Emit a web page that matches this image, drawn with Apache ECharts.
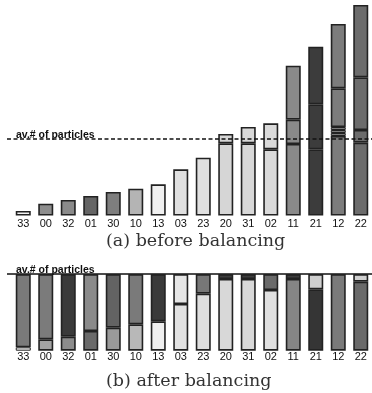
<!DOCTYPE html>
<html><head><meta charset="utf-8">
<script src="https://cdn.jsdelivr.net/npm/echarts@6/dist/echarts.min.js"></script>
<style>html,body{margin:0;padding:0;background:#fff}#c{width:372px;height:393px}</style>
</head><body><div id="c"></div>
<script>
// ---- data ----
const categories = ['33','00','32','01','30','10','13','03','23','20','31','02','11','21','12','22'];
// (a) before balancing: stacked segments, bottom to top (particle counts, chart units)
const beforeSeg1 = [4.5, 11.8, 15.5, 19.5, 23.5, 26.8, 31.2, 46.2, 57.8, 72.2, 72.2, 66.2, 71.5, 66.2, 79.5, 72.8];
const beforeSeg2 = [null, null, null, null, null, null, null, null, null, 9.3, 16.3, 26.0, 24.3, 45.0, 3.0, 12.7];
const beforeSeg3 = [null, null, null, null, null, null, null, null, null, null, null, null, 54.0, 57.6, 3.0, 52.7];
const beforeSeg4 = [null, null, null, null, null, null, null, null, null, null, null, null, null, null, 3.0, 72.3];
const beforeSeg5 = [null, null, null, null, null, null, null, null, null, null, null, null, null, null, 38.7, null];
const beforeSeg6 = [null, null, null, null, null, null, null, null, null, null, null, null, null, null, 64.3, null];
// (b) after balancing: own particles (bottom) and received particles (top)
const afterOwn = [3.4, 11.4, 14.0, 19.7, 23.0, 26.4, 29.4, 46.7, 57.0, 71.7, 71.7, 60.7, 71.7, 61.4, 76.5, 69.0];
const afterRecv = [73.1, 65.1, 62.5, 56.8, 53.5, 50.1, 47.1, 29.8, 19.5, 4.8, 4.8, 15.8, 4.8, 15.1, null, 7.5];
const avgParticles = 76.5;
const avgLabel = 'av.# of particles';

// ---- styles ----
const colorsBefore = ['#f2f2f2','#8e8e8e','#8a8a8a','#656565','#7e7e7e','#b4b4b4','#f0f0f0','#e0e0e0','#e0e0e0','#d6d6d6','#d8d8d8','#dadada','#8a8a8a','#3c3c3c','#7c7c7c','#6c6c6c'];
const colorsOwn = ['#f2f2f2','#a3a3a3','#8c8c8c','#6a6a6a','#9a9a9a','#b8b8b8','#efefef','#e2e2e2','#dedede','#d8d8d8','#d8d8d8','#e0e0e0','#858585','#353535','#7a7a7a','#6a6a6a'];
const colorsRecv = ['#7a7a7a','#7b7b7b','#3a3a3a','#8a8a8a','#636363','#7a7a7a','#3a3a3a','#e6e6e6','#777777','#3e3e3e','#3e3e3e','#6a6a6a','#3e3e3e','#cfcfcf','#7a7a7a','#d0d0d0'];

function items(vals, colors){
  return vals.map((v,i)=> v==null ? '-' : {value:v, itemStyle:{color:colors[i], borderColor:'#222', borderWidth: v < 4 ? 1 : 1.6}});
}
const sansLbl = {fontFamily:'Liberation Sans', fontSize:11, color:'#111'};

const chart = echarts.init(document.getElementById('c'), null, {renderer:'canvas'});
const segsA = [beforeSeg1,beforeSeg2,beforeSeg3,beforeSeg4,beforeSeg5,beforeSeg6];
const series = segsA.map((s,k)=>({
  type:'bar', stack:'a', xAxisIndex:0, yAxisIndex:0, barWidth:15,
  data: items(s, colorsBefore), silent:true
}));
series[series.length-1].markLine = {
  silent:true, symbol:'none', z:10,
  lineStyle:{color:'#111', width:1.6, type:[4,2.5]},
  label:{show:false},
  data:[[{x:7, yAxis:avgParticles},{x:372, yAxis:avgParticles}]]
};
series.push({type:'bar', stack:'b', xAxisIndex:1, yAxisIndex:1, barWidth:15, data: items(afterOwn, colorsOwn), silent:true});
series.push({type:'bar', stack:'b', xAxisIndex:1, yAxisIndex:1, barWidth:15, data: items(afterRecv, colorsRecv), silent:true,
  markLine:{silent:true, symbol:'none', z:10, lineStyle:{color:'#111', width:1.6, type:'solid'}, label:{show:false},
    data:[[{x:7, yAxis:avgParticles},{x:372, yAxis:avgParticles}]]}});

const capStyle = {fontFamily:'DejaVu Serif', fontSize:17.5, fontWeight:'normal', color:'#333'};
chart.setOption({
  animation:false,
  backgroundColor:'#fff',
  title:[
    {text:avgLabel, left:11, top:125, textStyle:Object.assign({}, sansLbl, {fontWeight:'bold', fontSize:10.5})},
    {text:'(a) before balancing', left:101, top:227, textStyle:capStyle},
    {text:avgLabel, left:11, top:260, textStyle:Object.assign({}, sansLbl, {fontWeight:'bold', fontSize:10.5})},
    {text:'(b) after balancing', left:101, top:367, textStyle:capStyle}
  ],
  grid:[
    {left:12, width:361, top:5, height:210.5},
    {left:12, width:361, top:274.2, height:76.5}
  ],
  xAxis:[
    {type:'category', gridIndex:0, data:categories, axisLine:{show:false}, axisTick:{show:false},
     axisLabel:Object.assign({margin:3, interval:0}, sansLbl)},
    {type:'category', gridIndex:1, data:categories, axisLine:{show:false}, axisTick:{show:false},
     axisLabel:Object.assign({margin:1, interval:0}, sansLbl)}
  ],
  yAxis:[
    {type:'value', gridIndex:0, min:0, max:210.5, show:false, splitLine:{show:false}},
    {type:'value', gridIndex:1, min:0, max:avgParticles, show:false, splitLine:{show:false}}
  ],
  series:series
});
</script></body></html>
